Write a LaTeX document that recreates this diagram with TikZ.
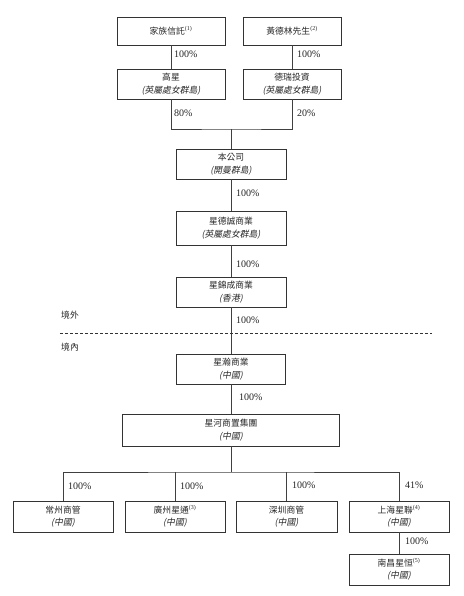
\documentclass[tikz,border=0pt]{standalone}
\usepackage{fontspec}
\setmainfont{Liberation Serif}
\newfontfamily\cjk{Noto Sans CJK TC}
\newfontfamily\cjkit[FakeSlant=0.2]{Noto Sans CJK TC}
\newcommand{\fnmark}[1]{\textsuperscript{\rmfamily\fontsize{6}{6}\selectfont(#1)}}
\newcommand{\regionof}[1]{{\cjkit(#1)}}
\tikzset{
	entity/.style={draw=black!80, line width=0.7pt, align=center, inner sep=1pt, text=black!85, font=\cjk\fontsize{8.8}{12.5}\selectfont},
	pct/.style={anchor=west, inner sep=0pt, text=black!85, font=\fontsize{10}{11}\selectfont},
	zone/.style={anchor=west, inner sep=0pt, text=black!85, font=\cjk\fontsize{8.8}{10}\selectfont},
	link/.style={draw=black!75, line width=0.7pt}
}
\begin{document}
\begin{tikzpicture}[x=1pt,y=-1pt]
	\useasboundingbox (0,0) rectangle (463,596);
	\node[entity, minimum width=108pt, minimum height=28pt] (trust) at (171,31) {家族信託\fnmark{1}};
	\node[entity, minimum width=98pt, minimum height=28pt] (wong) at (292,31) {黃德林先生\fnmark{2}};
	\node[entity, minimum width=108pt, minimum height=30pt] (gaoxing) at (171,84) {高星\\\regionof{英屬處女群島}};
	\node[entity, minimum width=98pt, minimum height=30pt] (derui) at (292,84) {德瑞投資\\\regionof{英屬處女群島}};
	\node[entity, minimum width=110pt, minimum height=30pt] (company) at (231,164) {本公司\\\regionof{開曼群島}};
	\node[entity, minimum width=110pt, minimum height=34pt] (xdc) at (231,228) {星德誠商業\\\regionof{英屬處女群島}};
	\node[entity, minimum width=110pt, minimum height=30pt] (xjc) at (231,292) {星錦成商業\\\regionof{香港}};
	\node[entity, minimum width=109pt, minimum height=30pt] (xinghan) at (231,369) {星瀚商業\\\regionof{中國}};
	\node[entity, minimum width=217pt, minimum height=32pt] (xinghe) at (231,430) {星河商置集團\\\regionof{中國}};
	\node[entity, minimum width=100pt, minimum height=31pt] (changzhou) at (63,516.5) {常州商管\\\regionof{中國}};
	\node[entity, minimum width=100pt, minimum height=31pt] (guangzhou) at (175,516.5) {廣州星通\fnmark{3}\\\regionof{中國}};
	\node[entity, minimum width=101pt, minimum height=31pt] (shenzhen) at (286.5,516.5) {深圳商管\\\regionof{中國}};
	\node[entity, minimum width=100pt, minimum height=31pt] (shanghai) at (399,516.5) {上海星聯\fnmark{4}\\\regionof{中國}};
	\node[entity, minimum width=100pt, minimum height=31pt] (nanchang) at (399,569.5) {南昌星恒\fnmark{5}\\\regionof{中國}};

	\coordinate (topjoin) at (231,129);
	\coordinate (subjoin) at (231,472);
	\coordinate (borderl) at (60,333);
	\coordinate (borderr) at (432,333);

	\draw[link] (trust) -- (gaoxing);
	\draw[link] (wong) -- (derui);
	\draw[link] (gaoxing.south) |- (topjoin) -| (derui.south);
	\draw[link] (topjoin) -- (company.north);
	\draw[link] (company) -- (xdc);
	\draw[link] (xdc) -- (xjc);
	\draw[link] (xjc) -- (xinghan);
	\draw[link] (xinghan) -- (xinghe);
	\draw[link] (xinghe.south) -- (subjoin);
	\draw[link] (changzhou.north) |- (subjoin) -| (shanghai.north);
	\draw[link] (guangzhou.north) -- (guangzhou.north |- subjoin);
	\draw[link] (shenzhen.north) -- (shenzhen.north |- subjoin);
	\draw[link] (shanghai) -- (nanchang);
	\draw[black!80, line width=0.7pt, dash pattern=on 3pt off 2pt] (borderl) -- (borderr);

	\node[zone] (offshore) at (61,315) {境外};
	\node[zone] (onshore) at (61,347) {境內};

	\node[pct] (p1) at (174,54) {100\%};
	\node[pct] (p2) at (297,54) {100\%};
	\node[pct] (p3) at (174,113) {80\%};
	\node[pct] (p4) at (297,113) {20\%};
	\node[pct] (p5) at (236,193) {100\%};
	\node[pct] (p6) at (236,264) {100\%};
	\node[pct] (p7) at (236,320) {100\%};
	\node[pct] (p8) at (239,397) {100\%};
	\node[pct] (p9) at (68,486) {100\%};
	\node[pct] (p10) at (180,486) {100\%};
	\node[pct] (p11) at (292,485) {100\%};
	\node[pct] (p12) at (405,485) {41\%};
	\node[pct] (p13) at (405,541) {100\%};
\end{tikzpicture}
\end{document}
